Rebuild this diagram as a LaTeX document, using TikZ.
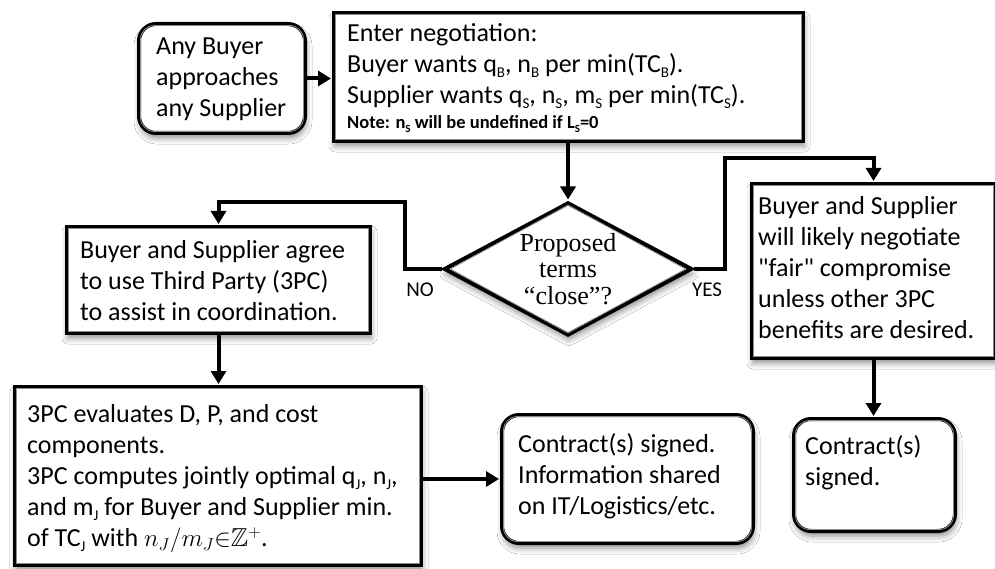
\documentclass[tikz,border=0pt]{standalone}
\usepackage{fontspec}
\usepackage{amssymb}
\setmainfont{Carlito}
\newfontfamily\dserif{Liberation Serif}
\newcommand\sbs[1]{\raisebox{-0.18em}{\fontsize{15pt}{15pt}\selectfont #1}}
\newcommand\nsbs[1]{\raisebox{-0.18em}{\fontsize{11pt}{11pt}\selectfont #1}}
\newcommand\sq{\XeTeXglyph\XeTeXcharglyph"22\relax}
\usetikzlibrary{shapes.geometric,arrows.meta,calc,shadows.blur}
\begin{document}
\begin{tikzpicture}[x=1pt,y=-1pt,
  shd/.style={blur shadow={shadow xshift=1pt,shadow yshift=-5pt,shadow blur radius=6pt,shadow opacity=45}},
  box/.style={draw=black,line width=4pt,fill=white,shd,inner sep=0pt},
  rbox/.style={box,rounded corners=17pt},
  innerframe/.style={draw=black!45,line width=0.8pt},
  txt/.style={inner sep=0pt,align=left,anchor=west,font=\fontsize{26pt}{31pt}\selectfont},
  lbl/.style={inner sep=0pt,font=\fontsize{21pt}{24pt}\selectfont},
  arr/.style={line width=4pt,-{Triangle[length=13pt,width=15pt]},shorten >=1pt},
  decision/.style={diamond,draw=black,line width=4pt,fill=white,shd,inner sep=0pt,aspect=1.865,
    align=center,font=\dserif\fontsize{26pt}{26.5pt}\selectfont}
]
\fill[white] (0,0) rectangle (995,569);
\useasboundingbox (0,0) rectangle (995,569);

% boxes
\node[rbox,minimum width=166pt,minimum height=109pt] (A) at (222,78.5) {};
\node[box,minimum width=469pt,minimum height=128pt] (B) at (568.5,77) {};
\node[decision,minimum width=248pt,minimum height=133pt] (dia) at (568,269) {Proposed\\terms\\“close”?};
\node[box,minimum width=303pt,minimum height=106pt] (C) at (218.5,280) {};
\node[box,minimum width=406pt,minimum height=178pt] (D) at (218,476) {};
\node[rbox,minimum width=251pt,minimum height=128pt] (E) at (627.5,479) {};
\node[box,minimum width=243pt,minimum height=174pt] (F) at (873.5,271) {};
\node[rbox,minimum width=161pt,minimum height=112pt] (G) at (874.5,475) {};

% inner thin frames
\foreach \n in {B,C,D,F}
  \draw[innerframe] ($(\n.north west)+(3.5pt,-3.5pt)$) rectangle ($(\n.south east)+(-3.5pt,3.5pt)$);
\foreach \n in {A,E,G}
  \draw[innerframe,rounded corners=14pt] ($(\n.north west)+(3.5pt,-3.5pt)$) rectangle ($(\n.south east)+(-3.5pt,3.5pt)$);
\draw[innerframe] ($(dia.north)+(0pt,-4.5pt)$) -- ($(dia.east)+(-8.5pt,0pt)$) -- ($(dia.south)+(0pt,4.5pt)$) -- ($(dia.west)+(8.5pt,0pt)$) -- cycle;

% texts
\node[txt] (tA) at (156,79) {Any Buyer\\approaches\\any Supplier};
\node[txt] (tB) at (347,78) {Enter negotiation:\\
Buyer wants q\sbs{B}, n\sbs{B} per min(TC\sbs{B}).\\
Supplier wants q\sbs{S}, n\sbs{S}, m\sbs{S} per min(TC\sbs{S}).\\[-6pt]
{\fontsize{18.5pt}{20pt}\selectfont\bfseries Note: n\nsbs{S} will be undefined if L\nsbs{S}=0}};
\node[txt] (tC) at (80,281) {Buyer and Supplier agree\\to use Third Party (3PC)\\to assist in coordination.};
\node[txt] (tD) at (27,479) {3PC evaluates D, P, and cost\\components.\\3PC computes jointly optimal q\sbs{J}, n\sbs{J},\\and m\sbs{J} for Buyer and Supplier min.\\of TC\sbs{J} with $n_J/m_J{\in}\mathbb{Z}^{+}$.};
\node[txt] (tE) at (518,476) {Contract(s) signed.\\Information shared\\on IT/Logistics/etc.};
\node[txt] (tF) at (758,268) {Buyer and Supplier\\will likely negotiate\\\sq fair\sq{} compromise\\unless other 3PC\\benefits are desired.};
\node[txt] (tG) at (805,463) {Contract(s)\\signed.};

\node[lbl] (no) at (420,290) {NO};
\node[lbl] (yes) at (707,290) {YES};

% connectors
\coordinate (noA) at (405,202);
\coordinate (yesA) at (725,158);
\draw[arr] (A.east) -- (A.east -| B.west);
\draw[arr] (dia.north |- B.south) -- (dia.north);
\draw[arr] (dia.west) -| (noA) -| (C.north);
\draw[arr] (C.south) -- (C.south |- D.north);
\draw[arr] (E.west -| D.east) -- (E.west);
\draw[arr] (dia.east) -| (yesA) -| (F.north);
\draw[arr] (F.south) -- (F.south |- G.north);
\end{tikzpicture}
\end{document}
